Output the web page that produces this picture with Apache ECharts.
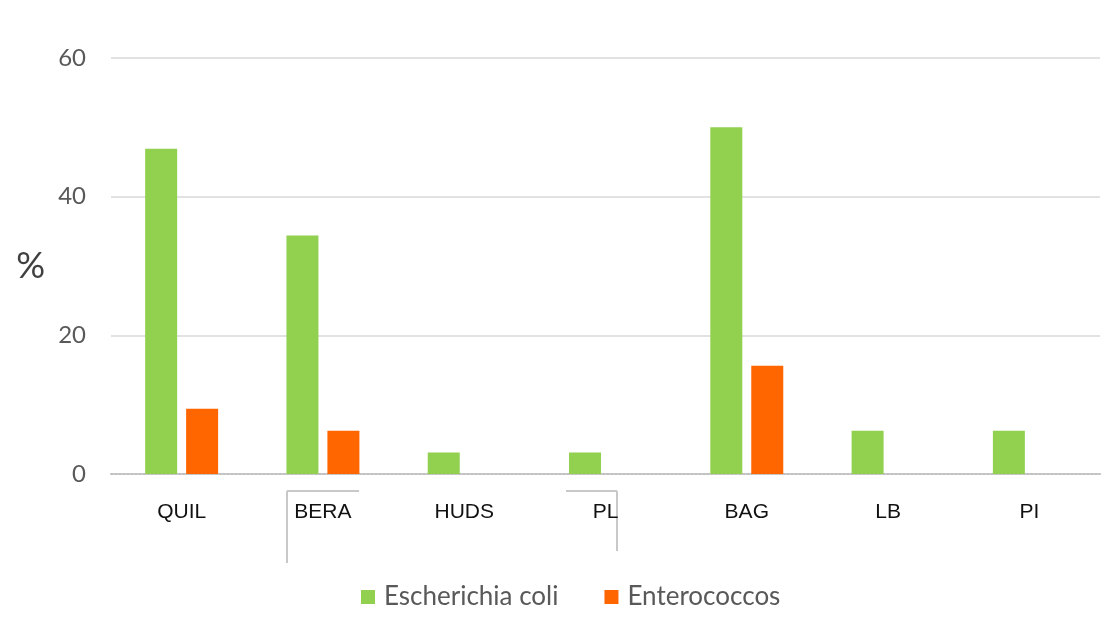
<!DOCTYPE html>
<html lang="en">
<head>
    <meta charset="UTF-8">
    <title>Escherichia coli / Enterococcos</title>
    <style>
        html, body { margin: 0; padding: 0; background: #fff; }
        #main { width: 1114px; height: 619px; }
    </style>
</head>
<body>
<script src="https://cdn.jsdelivr.net/npm/echarts@6/dist/echarts.min.js"></script>
<div id="main"></div>
<script>
    // dados
    var sites = ['QUIL', 'BERA', 'HUDS', 'PL', 'BAG', 'LB', 'PI'];
    var ecoli = [46.9, 34.4, 3.1, 3.1, 50, 6.25, 6.25];
    var entero = [9.4, 6.25, 0, 0, 15.6, 0, 0];
    var yTicks = [0, 20, 40, 60];

    var chart = echarts.init(document.getElementById('main'));

    // linhas soltas em volta de BERA e PL (estao na imagem original)
    var boxLine = function (x1, y1, x2, y2) {
        return {
            type: 'line',
            shape: { x1: x1, y1: y1, x2: x2, y2: y2 },
            style: { stroke: '#c8c8c8', lineWidth: 2 },
            silent: true
        };
    };

    var option = {
        animation: false,
        grid: { left: 111, right: 14, top: 58, bottom: 145 },
        legend: {
            bottom: 4,
            left: 356,
            itemWidth: 14,
            itemHeight: 14,
            itemGap: 46,
            icon: 'rect',
            textStyle: { fontFamily: 'Lato', fontSize: 26, color: '#595959', padding: [0, 0, 0, 4] },
            data: ['Escherichia coli', 'Enterococcos']
        },
        xAxis: {
            type: 'category',
            data: sites,
            axisLine: { lineStyle: { color: '#c0c0c0', type: 'dotted', width: 2 } },
            axisTick: { show: false },
            axisLabel: {
                margin: 28,
                fontFamily: 'Liberation Sans',
                fontSize: 21,
                color: '#111'
            }
        },
        yAxis: {
            type: 'value',
            min: yTicks[0],
            max: yTicks[yTicks.length - 1],
            interval: 20,
            name: '%',
            nameLocation: 'middle',
            nameRotate: 0,
            nameGap: 66,
            nameTextStyle: { fontFamily: 'Lato', fontSize: 36, color: '#404040' },
            axisLine: { show: false },
            axisTick: { show: false },
            axisLabel: {
                margin: 25,
                fontFamily: 'Lato',
                fontSize: 24,
                color: '#595959'
            },
            splitLine: { lineStyle: { color: '#d9d9d9', width: 1.5 } }
        },
        series: [
            {
                name: 'Escherichia coli',
                type: 'bar',
                barWidth: 32,
                barGap: '28%',
                itemStyle: { color: '#92d050' },
                data: ecoli
            },
            {
                name: 'Enterococcos',
                type: 'bar',
                barWidth: 32,
                barGap: '28%',
                itemStyle: { color: '#ff6600' },
                data: entero
            }
        ],
        graphic: [
            boxLine(287, 491, 359, 491),
            boxLine(287, 491, 287, 563),
            boxLine(566, 491, 617, 491),
            boxLine(617, 491, 617, 551)
        ]
    };

    chart.setOption(option);
</script>
</body>
</html>
